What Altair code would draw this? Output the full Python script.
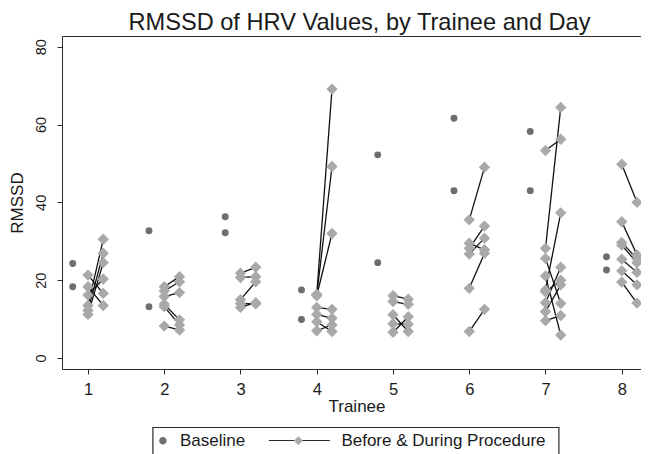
import altair as alt
import pandas as pd

# ---------------- data ----------------
title_text = "RMSSD of HRV Values, by Trainee and Day"
x_title = "Trainee"
y_title = "RMSSD"
legend_labels = ["Baseline", "Before & During Procedure"]
x_ticks = [1, 2, 3, 4, 5, 6, 7, 8]
y_ticks = [0, 20, 40, 60, 80]

baseline_trainee = [1, 1, 2, 2, 3, 3, 4, 4, 5, 5, 6, 6, 7, 7, 8, 8]
baseline_rmssd = [24.3, 18.3, 32.7, 13.2, 36.3, 32.2, 17.5, 9.9,
                  52.2, 24.5, 61.6, 43.0, 58.2, 43.0, 26.0, 22.6]

pair_trainee = [1] * 6 + [2] * 6 + [3] * 5 + [4] * 7 + [5] * 5 + [6] * 6 + [7] * 9 + [8] * 7
before_rmssd = [13.5, 12.3, 11.2, 21.3, 18.3, 16.2,
                18.3, 17.2, 15.8, 13.8, 13.2, 8.2,
                21.8, 20.7, 15.0, 14.0, 13.0,
                16.4, 16.2, 16.0, 13.0, 11.2, 9.3, 7.0,
                16.0, 14.5, 11.1, 6.6, 8.8,
                35.5, 28.2, 26.7, 29.5, 17.9, 6.8,
                53.3, 28.2, 17.5, 25.6, 21.1, 14.2, 17.0, 11.9, 9.6,
                49.8, 35.0, 29.7, 29.0, 25.4, 22.4, 19.5]
during_rmssd = [30.5, 26.9, 24.5, 16.6, 13.5, 20.3,
                20.9, 19.6, 16.8, 9.8, 8.5, 7.2,
                23.3, 20.9, 19.6, 13.9, 14.2,
                69.1, 49.2, 32.0, 12.5, 10.2, 6.8, 8.5,
                15.1, 13.8, 6.8, 10.6, 8.7,
                49.0, 33.9, 30.8, 27.8, 26.9, 12.5,
                56.2, 64.4, 37.3, 14.0, 5.9, 23.3, 20.0, 18.8, 10.9,
                40.0, 26.5, 25.5, 24.5, 22.0, 18.8, 14.1]

# ---------------- tables ----------------
rows = []
for i, (t, b, d) in enumerate(zip(pair_trainee, before_rmssd, during_rmssd)):
    rows.append({"pair": i, "trainee": t, "phase": "Before", "rmssd": b})
    rows.append({"pair": i, "trainee": t, "phase": "During", "rmssd": d})
pairs_df = pd.DataFrame(rows)
base_df = pd.DataFrame({"trainee": baseline_trainee, "rmssd": baseline_rmssd})
legend_df = pd.DataFrame({"series": legend_labels, "series_line": legend_labels})

# ---------------- styles ----------------
FONT = "Liberation Sans"
TXT = "#1a1a1a"
FRAME = "#2b2b2b"
BASE_COL = "#6e6e6e"
DIAM_COL = "#a9a9a9"
LINE_COL = "#111111"

xscale = alt.Scale(domain=[0.659, 8.2525], nice=False, zero=False)
yscale = alt.Scale(domain=[-2.83, 82.75], nice=False, zero=False)

xaxis = alt.Axis(values=x_ticks, format="d", title=x_title, grid=False,
                 domain=True, domainColor=FRAME, domainWidth=1,
                 tickSize=5, tickColor=FRAME, tickWidth=1,
                 labelFont=FONT, labelFontSize=16.5, labelColor=TXT, labelPadding=7,
                 titleFont=FONT, titleFontSize=17, titleFontWeight="normal", titleColor=TXT,
                 titleX=294.5, titleY=42, titleAlign="center", titleBaseline="alphabetic")
xaxis_top = alt.Axis(orient="top", labels=False, ticks=False, grid=False, title=None,
                     domain=True, domainColor=FRAME, domainWidth=1)
yaxis = alt.Axis(values=y_ticks, title=y_title, grid=False,
                 domain=True, domainColor=FRAME, domainWidth=1,
                 tickSize=5, tickColor=FRAME, tickWidth=1,
                 labelFont=FONT, labelFontSize=14.5, labelColor=TXT, labelPadding=9,
                 labelAngle=270, labelAlign="center", labelBaseline="bottom",
                 titleFont=FONT, titleFontSize=17, titleFontWeight="normal", titleColor=TXT,
                 titleX=-45, titleAngle=270, titleBaseline="middle")

Y = alt.Y("rmssd:Q", scale=yscale, axis=yaxis)
pair_x = "datum.trainee + (datum.phase === 'During' ? 0.2 : 0)"

lines = alt.Chart(pairs_df).transform_calculate(xpos=pair_x).mark_line(
    color=LINE_COL, strokeWidth=1.3
).encode(x=alt.X("xpos:Q", scale=xscale, axis=xaxis), y=Y, detail="pair:N")

diamonds = alt.Chart(pairs_df).transform_calculate(xpos=pair_x).mark_point(
    shape="diamond", filled=True, size=130, color=DIAM_COL, opacity=1, strokeWidth=0
).encode(x=alt.X("xpos:Q", scale=xscale, axis=xaxis_top), y=Y)

base = alt.Chart(base_df).transform_calculate(xpos="datum.trainee - 0.2").mark_point(
    shape="circle", filled=True, size=48, color=BASE_COL, opacity=1, strokeWidth=0
).encode(x=alt.X("xpos:Q", scale=xscale, axis=None), y=Y)

# ---------------- legend ----------------
# legend B: markers + labels; legend A (drawn beneath): key line and frame box
circle_path = "M-3.7,0A3.7,3.7,0,1,1,3.7,0A3.7,3.7,0,1,1,-3.7,0Z"
diamond_path = "M-26,-4.5L-21.5,0L-26,4.5L-30.5,0Z M-56.6,0"
box_line_path = "M-10,-13L396,-13L396,24L-10,24Z M106,0L167,0"

leg_common = dict(orient="none", legendX=87.4, legendY=391, direction="horizontal",
                  symbolSize=4, symbolOffset=0, labelOffset=8.5,
                  labelFont=FONT, labelFontSize=17, labelColor=TXT, labelLimit=600,
                  columnPadding=21.5, padding=5)

leg_a = alt.Chart(legend_df).transform_filter("false").mark_point(
    filled=False, strokeWidth=1.2, opacity=1
).encode(
    stroke=alt.Stroke("series_line:N", title=None,
                      scale=alt.Scale(domain=[legend_labels[0]], range=[FRAME]),
                      legend=alt.Legend(**leg_common, labelExpr="''", symbolStrokeWidth=1.2,
                                        symbolFillColor="transparent")),
    shape=alt.Shape("series_line:N", title=None,
                    scale=alt.Scale(domain=[legend_labels[0]], range=[box_line_path]),
                    legend=alt.Legend(**leg_common, labelExpr="''", symbolStrokeWidth=1.2,
                                      symbolFillColor="transparent")),
)

leg_b = alt.Chart(legend_df).transform_filter("false").mark_point(
    filled=True, opacity=1
).encode(
    fill=alt.Fill("series:N", title=None,
                  scale=alt.Scale(domain=legend_labels, range=[BASE_COL, DIAM_COL]),
                  legend=alt.Legend(**leg_common, symbolStrokeWidth=0)),
    shape=alt.Shape("series:N", title=None,
                    scale=alt.Scale(domain=legend_labels, range=[circle_path, diamond_path]),
                    legend=alt.Legend(**leg_common, symbolStrokeWidth=0)),
)

chart = alt.layer(leg_a, leg_b, lines, diamonds, base).resolve_scale(
    shape="independent", fill="independent", stroke="independent"
).resolve_axis(x="independent").properties(
    width=579, height=333,
    title=alt.Title(title_text, font=FONT, fontSize=23.6, fontWeight="normal", color=TXT,
                    anchor="middle", frame="group", baseline="alphabetic", offset=8,
                    dx=8, dy=26),
    padding={"left": 54, "top": 28, "right": 0, "bottom": 91},
    autosize=alt.AutoSizeParams(type="none"),
).configure_view(stroke=None)

chart.save("out.html", embed_options={"renderer": "svg", "actions": False})
